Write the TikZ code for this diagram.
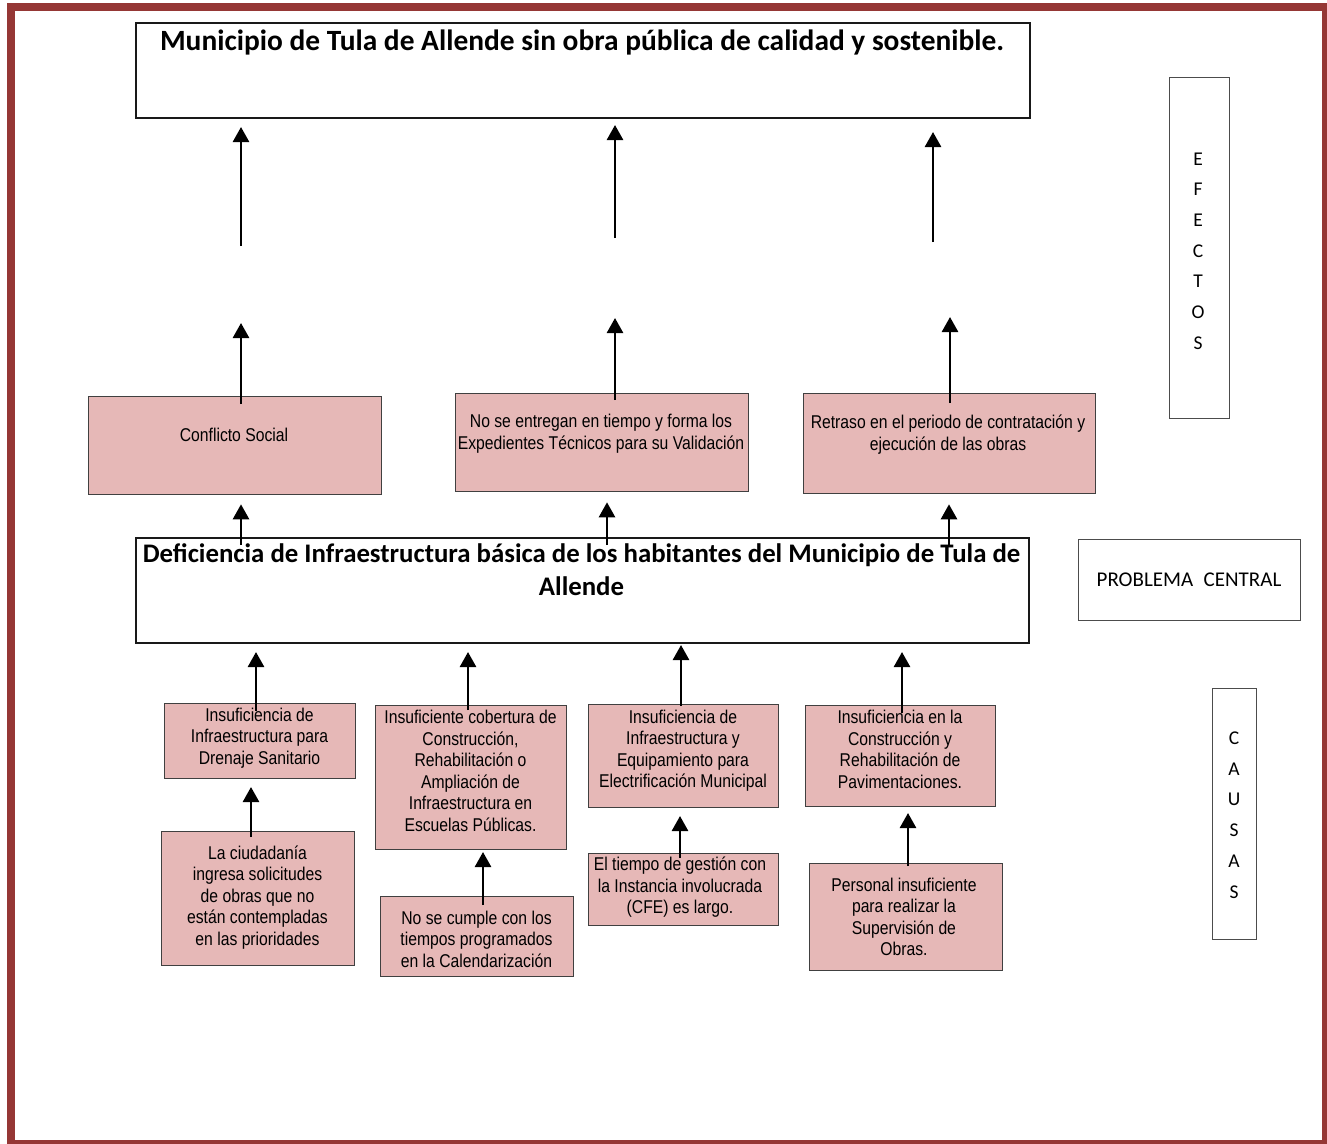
\documentclass[tikz,border=0pt]{standalone}
\usepackage{fontspec}
\setmainfont{Carlito}
\newfontfamily\nar[FakeStretch=0.85]{Liberation Sans}
\usetikzlibrary{arrows.meta}
\definecolor{framered}{RGB}{149,55,53}
\definecolor{boxpink}{RGB}{230,184,183}
\newcommand{\mybox}[6]{\node[#6, minimum width=#4-#2, minimum height=#5-#3, inner sep=0pt, anchor=north west] (#1) at (#2,#3) {};}
\begin{document}
\begin{tikzpicture}[x=1pt,y=-1pt,
  pinkbox/.style={draw=black!75, fill=boxpink, line width=1.3pt},
  whitebox/.style={draw=black!90, line width=1.5pt},
  sidebox/.style={draw=black!70, line width=1.3pt},
  arr/.style={line width=2.6pt, -{Triangle[width=16pt,length=15pt]}},
  ptext/.style={font=\nar\fontsize{18.5}{21.5}\selectfont, align=center, inner sep=0pt},
  etext/.style={font=\nar\fontsize{18.5}{22}\selectfont, align=center, inner sep=0pt},
  stext/.style={font=\fontsize{19.5}{30.7}\selectfont, align=center, inner sep=0pt}]
\useasboundingbox (0,0) rectangle (1327,1143);
\fill[white] (0,0) rectangle (1327,1143);
\draw[framered, line width=8pt] (11,7) rectangle (1326,1144);

% main boxes
\mybox{top}{135}{22}{1029}{117}{whitebox}
\node[font=\bfseries\fontsize{29.4}{34}\selectfont, inner sep=0pt, anchor=base] (toptxt) at (582,50) {Municipio de Tula de Allende sin obra pública de calidad y sostenible.};
\mybox{cen}{135}{537}{1028}{642}{whitebox}
\node[font=\bfseries\fontsize{26.8}{33}\selectfont, align=center, inner sep=0pt, anchor=base] (centxt) at (581.5,595) {Deficiencia de Infraestructura básica de los habitantes del Municipio de Tula de\\Allende};

% side labels
\mybox{efx}{1169}{77}{1229}{418}{sidebox}
\node[stext] (efxt) at (1198,251) {E\\F\\E\\C\\T\\O\\S};
\mybox{pc}{1078}{539}{1300}{620}{sidebox}
\node[font=\fontsize{21}{25}\selectfont, inner sep=0pt] (pct) at (1189,580) {PROBLEMA\hspace{0.5em}CENTRAL};
\mybox{cau}{1212}{688}{1256}{939}{sidebox}
\node[stext] (caut) at (1234,815) {C\\A\\U\\S\\A\\S};

% effects
\mybox{e1}{88}{396}{381}{494}{pinkbox}
\node[etext] (e1t) at (234,435) {Conflicto Social};
\mybox{e2}{455}{393}{748}{491}{pinkbox}
\node[etext] (e2t) at (601,434) {No se entregan en tiempo y forma los\\Expedientes Técnicos para su Validación};
\mybox{e3}{803}{393}{1095}{493}{pinkbox}
\node[etext] (e3t) at (948,435) {Retraso en el periodo de contratación y\\ejecución de las obras};

% causes level 1
\mybox{c1}{164}{703}{355}{778}{pinkbox}
\node[ptext] (c1t) at (259.5,738) {Insuficiencia de\\Infraestructura para\\Drenaje Sanitario};
\mybox{c2}{375}{705}{566}{849}{pinkbox}
\node[ptext] (c2t) at (470.5,771) {Insuficiente cobertura de\\Construcción,\\Rehabilitación o\\Ampliación de\\Infraestructura en\\Escuelas Públicas.};
\mybox{c3}{588}{704}{778}{807}{pinkbox}
\node[ptext] (c3t) at (683,750.5) {Insuficiencia de\\Infraestructura y\\Equipamiento para\\Electrificación Municipal};
\mybox{c4}{805}{705}{995}{806}{pinkbox}
\node[ptext] (c4t) at (900,749.5) {Insuficiencia en la\\Construcción y\\Rehabilitación de\\Pavimentaciones.};

% causes level 2
\mybox{d1}{161}{831}{354}{965}{pinkbox}
\node[ptext] (d1t) at (257.5,897.5) {La ciudadanía\\ingresa solicitudes\\de obras que no\\están contempladas\\en las prioridades};
\mybox{d2}{380}{896}{573}{976}{pinkbox}
\node[ptext] (d2t) at (476.5,939) {No se cumple con los\\tiempos programados\\en la Calendarización};
\mybox{d3}{588}{853}{778}{925}{pinkbox}
\node[ptext] (d3t) at (680,887.5) {El tiempo de gestión con\\la Instancia involucrada\\(CFE) es largo.};
\mybox{d4}{809}{863}{1002}{970}{pinkbox}
\node[ptext] (d4t) at (904,917) {Personal insuficiente\\para realizar la\\Supervisión de\\Obras.};

% arrow end points
\coordinate (a1s) at (241,246); \coordinate (a1e) at (241,127);
\coordinate (a2s) at (615,238); \coordinate (a2e) at (615,125);
\coordinate (a3s) at (933,242); \coordinate (a3e) at (933,132);
\coordinate (b1e) at (241,323);
\coordinate (b2e) at (615,318);
\coordinate (b3e) at (950,317);

\draw[arr] (a1s) -- (a1e);
\draw[arr] (a2s) -- (a2e);
\draw[arr] (a3s) -- (a3e);
\draw[arr] (e1.north west) ++(153,8) -- (b1e);
\draw[arr] (e2.north west) ++(160,7) -- (b2e);
\draw[arr] (e3.north west) ++(147,10) -- (b3e);
\draw[arr] (cen.north west) ++(106,8) -- ([xshift=106pt, yshift=-9pt]cen.north west |- e1.south);
\draw[arr] (cen.north west) ++(472,8) -- ([xshift=472pt, yshift=-10pt]cen.north west |- e2.south);
\draw[arr] (cen.north west) ++(814,8) -- ([xshift=814pt, yshift=-10pt]cen.north west |- e3.south);
\draw[arr] (c1.north west) ++(92,8) -- (256,652);
\draw[arr] (c2.north west) ++(93,5) -- (468,652);
\draw[arr] (c3.north west) ++(93,2) -- (681,645);
\draw[arr] (c4.north west) ++(97,8) -- (902,652);
\draw[arr] (d1.north west) ++(90,6) -- (251,787);
\draw[arr] (d2.north west) ++(103,9) -- (483,852);
\draw[arr] (d3.north west) ++(92,5) -- (680,816);
\draw[arr] (d4.north west) ++(99,3) -- (908,813);
\end{tikzpicture}
\end{document}
